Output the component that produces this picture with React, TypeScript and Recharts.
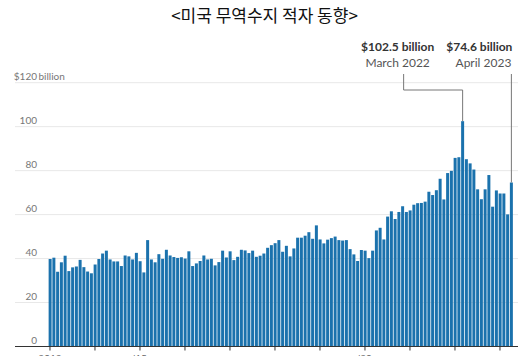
import React from "react";
import { BarChart, Bar, XAxis, YAxis, CartesianGrid } from "recharts";

const years = [2013, 2014, 2015, 2016, 2017, 2018, 2019, 2020, 2021, 2022, 2023];
const monthCodes = ["01", "02", "03", "04", "05", "06", "07", "08", "09", "10", "11", "12"];

const d2013 = [39.8, 40.4, 34.0, 38.3, 41.3, 34.3, 36.0, 36.4, 39.4, 36.1, 34.1, 33.3];
const d2014 = [37.3, 39.8, 42.3, 43.6, 39.6, 38.7, 38.7, 36.6, 41.4, 41.0, 39.6, 42.6];
const d2015 = [38.8, 33.7, 48.4, 39.6, 38.3, 42.0, 39.9, 44.0, 41.4, 40.7, 40.3, 40.6];
const d2016 = [40.0, 43.3, 36.6, 37.8, 38.9, 41.4, 39.6, 39.9, 36.9, 38.4, 43.6, 40.5];
const d2017 = [43.3, 39.3, 40.8, 44.0, 43.7, 42.5, 43.6, 40.8, 41.3, 42.3, 44.9, 46.1];
const d2018 = [47.0, 48.4, 43.1, 45.8, 41.0, 44.6, 49.5, 49.5, 50.4, 52.0, 49.0, 55.1];
const d2019 = [48.7, 46.9, 48.6, 49.3, 50.0, 48.4, 48.2, 48.4, 44.3, 41.9, 38.9, 43.9];
const d2020 = [43.6, 40.2, 43.6, 52.8, 54.0, 48.7, 59.1, 61.5, 58.0, 61.2, 63.8, 61.2];
const d2021 = [61.9, 64.5, 65.2, 65.3, 65.9, 70.4, 68.9, 71.1, 76.3, 66.9, 78.9, 79.9];
const d2022 = [85.8, 86.1, 102.5, 85.2, 83.3, 80.5, 71.5, 67.0, 71.5, 78.0, 63.6, 71.0];
const d2023 = [69.6, 69.6, 60.1, 74.6];

const yearValues = [d2013, d2014, d2015, d2016, d2017, d2018, d2019, d2020, d2021, d2022, d2023];

const yTicks = [0, 20, 40, 60, 80, 100, 120];
const xLabels: Record<string, string> = { "2013-01": "2013", "2015-01": "'15", "2020-01": "'20" };

const peakMonth = "2022-03";
const lastMonth = "2023-04";
const peakTitle = "$102.5 billion";
const peakSub = "March 2022";
const lastTitle = "$74.6 billion";
const lastSub = "April 2023";

const title = "<미국 무역수지 적자 동향>";

const data = years.flatMap((yr, yi) =>
  yearValues[yi].map((v, mi) => ({ month: `${yr}-${monthCodes[mi]}`, deficit: v }))
);

const FONT = "Lato, 'Open Sans', sans-serif";

const YTick = (props: any) => {
  const { y, payload } = props;
  const v = payload.value;
  if (v === 0) {
    return (
      <text x={37} y={y - 3} textAnchor="end" fontSize={10} fill="#777" fontFamily={FONT}>
        0
      </text>
    );
  }
  return (
    <g>
      <text x={37} y={y - 3} textAnchor="end" fontSize={10} fill="#777" fontFamily={FONT}>
        {v === 120 ? `$${v}` : v}
      </text>
      {v === 120 && (
        <text x={38.5} y={y - 3} textAnchor="start" fontSize={10} fill="#777" fontFamily={FONT}>
          billion
        </text>
      )}
    </g>
  );
};

const XTick = (props: any) => {
  const { x, y, payload } = props;
  const lab = xLabels[payload.value];
  if (!lab) return null;
  return (
    <text x={x} y={y + 9} textAnchor="middle" fontSize={10} fill="#666" fontFamily={FONT}>
      {lab}
    </text>
  );
};

const Annot = (props: any) => {
  const { x, y, width, index } = props;
  const m = data[index]?.month;
  const cx = x + width / 2;
  if (m === peakMonth) {
    const tx = cx - 65;
    return (
      <g>
        <polyline
          points={`${cx},${y} ${cx},90 ${cx - 59},90 ${cx - 59},74`}
          fill="none"
          stroke="#777"
          strokeWidth={1}
        />
        <text x={tx} y={51} textAnchor="middle" fontSize={12} fontWeight="bold" fill="#333" fontFamily={FONT}>
          {peakTitle}
        </text>
        <text x={tx} y={67} textAnchor="middle" fontSize={12} fill="#555" fontFamily={FONT}>
          {peakSub}
        </text>
      </g>
    );
  }
  if (m === lastMonth) {
    return (
      <g>
        <line x1={cx} y1={y} x2={cx} y2={74} stroke="#777" strokeWidth={1} />
        <text x={cx + 1} y={51} textAnchor="end" fontSize={12} fontWeight="bold" fill="#333" fontFamily={FONT}>
          {lastTitle}
        </text>
        <text x={cx} y={67} textAnchor="end" fontSize={12} fill="#555" fontFamily={FONT}>
          {lastSub}
        </text>
      </g>
    );
  }
  return null;
};

export default function App() {
  return (
    <div style={{ position: "absolute", left: 0, top: 0, width: 529, height: 356, background: "#fff" }}>
      <div
        style={{
          position: "absolute",
          left: 0,
          top: 3,
          width: 529,
          textAlign: "center",
          fontFamily: "'Noto Sans CJK KR', sans-serif",
          fontSize: 17,
          color: "#111",
          lineHeight: "24px",
        }}
      >
        {title}
      </div>
      <BarChart
        width={529}
        height={356}
        data={data}
        margin={{ top: 82.7, right: 11, bottom: 0, left: 15 }}
        barCategoryGap="14%"
      >
        <CartesianGrid horizontal vertical={false} stroke="#e8e8e8" />
        <YAxis
          domain={[0, 120]}
          ticks={yTicks}
          mirror
          axisLine={false}
          tickLine={false}
          tick={<YTick />}
          interval={0}
        />
        <Bar dataKey="deficit" fill="#1b72ad" isAnimationActive={false} label={<Annot />} />
        <XAxis
          dataKey="month"
          height={9.5}
          padding={{ left: 33.1, right: 4.9 }}
          interval={11}
          axisLine={{ stroke: "#333", strokeWidth: 1 }}
          tickLine={{ stroke: "#333" }}
          tickSize={4}
          tick={<XTick />}
        />
      </BarChart>
    </div>
  );
}
